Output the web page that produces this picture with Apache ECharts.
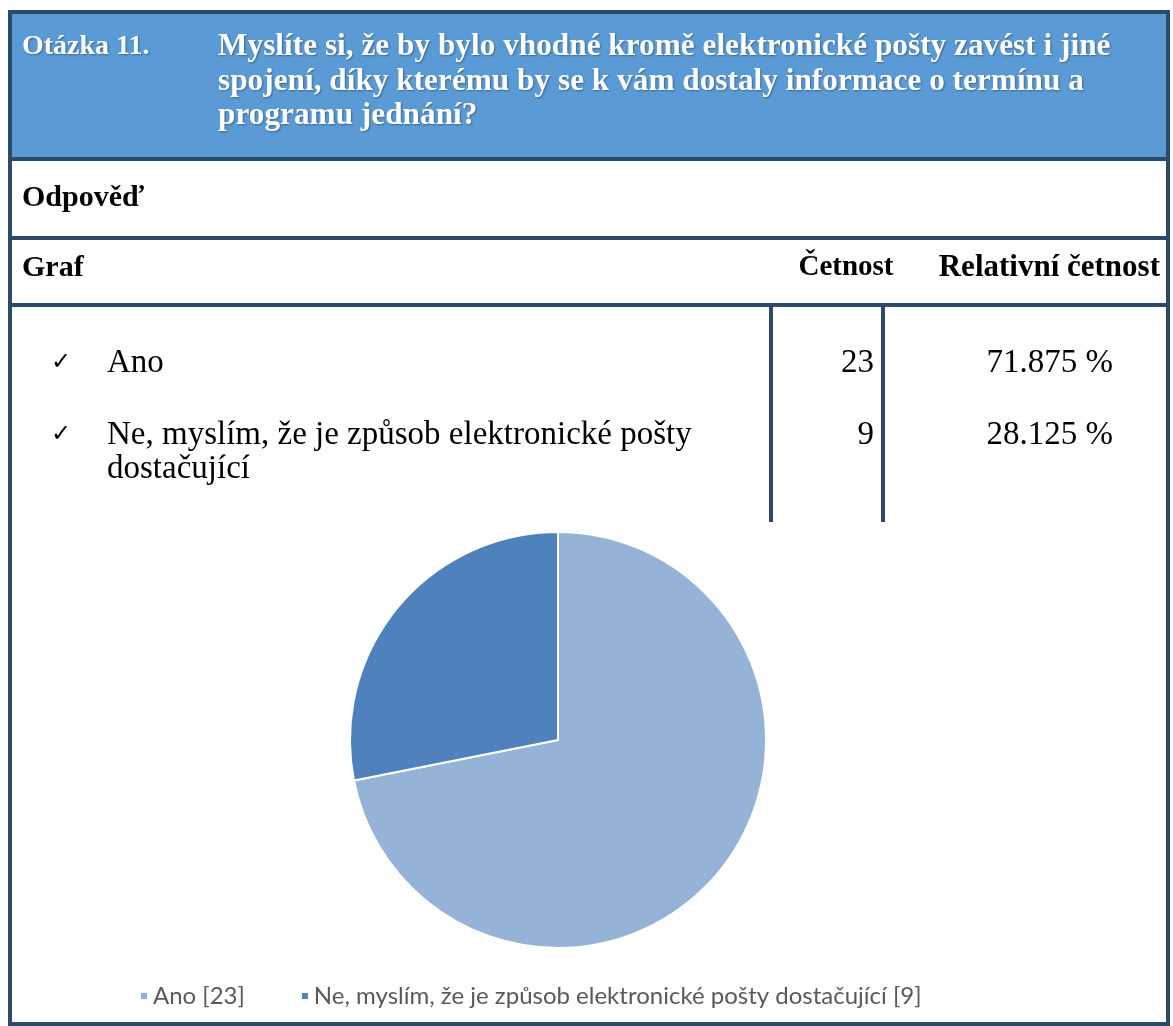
<!DOCTYPE html>
<html>
<head>
<meta charset="utf-8">
<script src="https://cdn.jsdelivr.net/npm/echarts@6/dist/echarts.min.js"></script>
<style>
html,body{margin:0;padding:0;background:#fff;}
#c{width:1173px;height:1026px;}
</style>
</head>
<body>
<div id="c"></div>
<script>
// ---- data ----
const questionLabel = 'Otázka 11.';
const questionLines = [
  'Myslíte si, že by bylo vhodné kromě elektronické pošty zavést i jiné',
  'spojení, díky kterému by se k vám dostaly informace o termínu a',
  'programu jednání?'
];
const categories = ['Ano', 'Ne, myslím, že je způsob elektronické pošty dostačující'];
const categoryLines = [['Ano'], ['Ne, myslím, že je způsob elektronické pošty', 'dostačující']];
const counts = [23, 9];
const relative = ['71.875 %', '28.125 %'];
const colors = ['#95b3d7', '#4f81bd'];

const serif = '"Liberation Serif", "Times New Roman", serif';
const border = '#2b4a6a';
const qFont = 'bold 31.3px ' + serif;
const labelFont = 'bold 28px ' + serif;
const boldFont = 'bold 30px ' + serif;
const regFont = '33px ' + serif;

const g = [];
g.push({type:'rect', shape:{x:10,y:12,width:1158,height:147}, style:{fill:'#5b9bd5'}, z:1});
const shadow = {textShadowColor:'rgba(0,0,0,0.35)', textShadowBlur:2, textShadowOffsetX:1, textShadowOffsetY:1};
g.push({type:'text', x:22, y:47, style:Object.assign({text:questionLabel, font:labelFont, fill:'#fff', textVerticalAlign:'middle'}, shadow), z:3});
questionLines.forEach((t,i)=>{
  g.push({type:'text', x:218, y:47+i*34.5, style:Object.assign({text:t, font:qFont, fill:'#fff', textVerticalAlign:'middle'}, shadow), z:3});
});
g.push({type:'text', x:22, y:198, style:{text:'Odpověď', font:boldFont, fill:'#000', textVerticalAlign:'middle'}, z:3});
g.push({type:'text', x:22, y:268, style:{text:'Graf', font:boldFont, fill:'#000', textVerticalAlign:'middle'}, z:3});
g.push({type:'text', x:846, y:268, style:{text:'Četnost', font:'bold 29px ' + serif, fill:'#000', textVerticalAlign:'middle', textAlign:'center'}, z:3});
g.push({type:'text', x:1160, y:268, style:{text:'Relativní četnost', font:'bold 31px ' + serif, fill:'#000', textVerticalAlign:'middle', textAlign:'right'}, z:3});
// lines
[159, 238, 305].forEach(y=>{
  g.push({type:'line', shape:{x1:10,y1:y,x2:1168,y2:y}, style:{stroke:border, lineWidth:4}, z:4});
});
[771, 883].forEach(x=>{
  g.push({type:'line', shape:{x1:x,y1:305,x2:x,y2:522}, style:{stroke:border, lineWidth:4}, z:4});
});
g.push({type:'rect', shape:{x:10,y:12,width:1158,height:1012}, style:{fill:'none', stroke:border, lineWidth:4}, z:5});
// list rows
const rowY = [363, 435];
categories.forEach((c,i)=>{
  g.push({type:'text', x:51, y:rowY[i], style:{text:'✓', font:'24px "DejaVu Sans", sans-serif', fill:'#000', textVerticalAlign:'middle'}, z:3});
  categoryLines[i].forEach((t,j)=>{
    g.push({type:'text', x:107, y:rowY[i]+j*34, style:{text:t, font:regFont, fill:'#000', textVerticalAlign:'middle'}, z:3});
  });
  g.push({type:'text', x:874, y:rowY[i], style:{text:String(counts[i]), font:regFont, fill:'#000', textVerticalAlign:'middle', textAlign:'right'}, z:3});
  g.push({type:'text', x:1113, y:rowY[i], style:{text:relative[i], font:regFont, fill:'#000', textVerticalAlign:'middle', textAlign:'right'}, z:3});
});

const chart = echarts.init(document.getElementById('c'), null, {renderer:'canvas'});
chart.setOption({
  animation:false,
  backgroundColor:'#fff',
  color: colors,
  graphic: g,
  legend:{
    left:134, top:979, itemWidth:8, itemHeight:8, itemGap:55, icon:'rect',
    textStyle:{fontFamily:'Lato, "Open Sans", sans-serif', fontSize:24, color:'#595959'},
    formatter: name => name + ' [' + counts[categories.indexOf(name)] + ']'
  },
  series:[{
    type:'pie', center:[558,740], radius:[0,208], startAngle:90, clockwise:true,
    label:{show:false}, labelLine:{show:false},
    itemStyle:{borderColor:'#fff', borderWidth:2},
    data: categories.map((c,i)=>({name:c, value:counts[i]}))
  }]
});
</script>
</body>
</html>
